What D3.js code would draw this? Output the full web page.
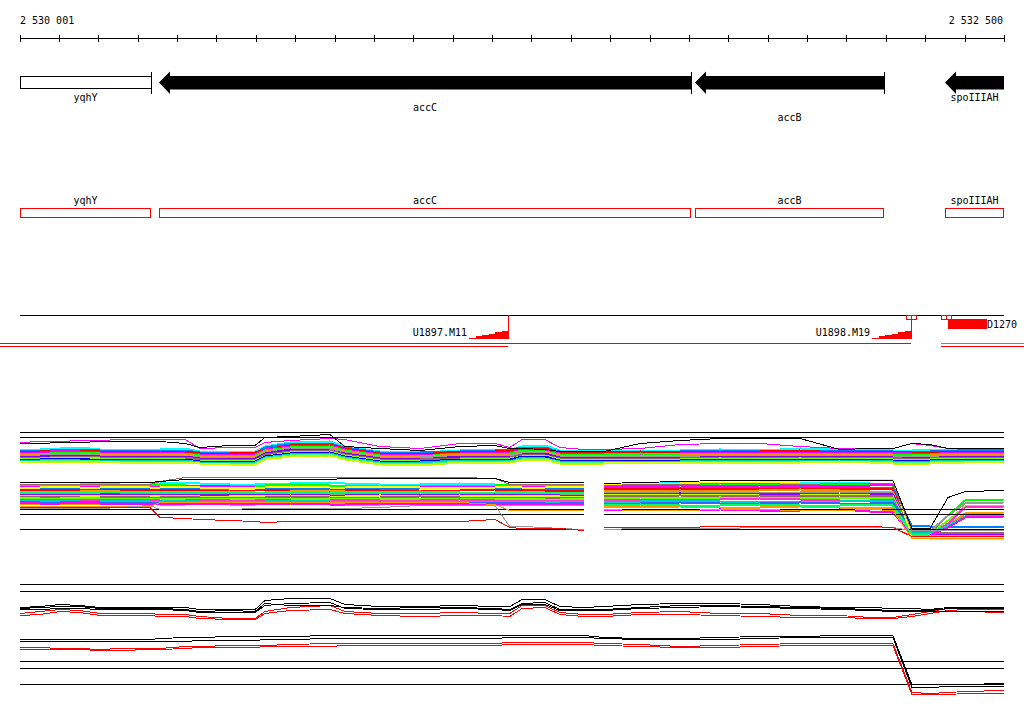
<!DOCTYPE html>
<html><head><meta charset="utf-8">
<script src="https://cdn.jsdelivr.net/npm/d3@7"></script>
<style>
body{margin:0;background:#fff}
svg{display:block}
text{font-family:"DejaVu Sans Mono","Liberation Mono",monospace;font-size:10px;fill:#000}
</style>
</head><body>
<svg id="chart" width="1024" height="714"></svg>
<script>
// ================= DATA =================
const viewStart = 2530001, viewEnd = 2532500;
const tickStep = 100;
const axisLabels = ["2 530 001", "2 532 500"];

// genes
const geneNames  = ["yqhY", "accC", "accB", "spoIIIAH"];
const geneStarts = [2529900, 2530355, 2531715, 2532350];
const geneEnds   = [2530334, 2531705, 2532195, 2532650];
const geneStrands = ["-", "-", "-", "-"];
const geneKinds  = ["open", "cds", "cds", "cds"];
const geneLabelRows = [0, 1, 2, 0];

// probes / features on the annotation line
const probeNames  = ["U1897.M11", "U1898.M19"];
const probeStarts = [2531141, 2532165];
const probeEnds   = [2531240, 2532264];
const markerStarts = [2532251, 2532264, 2532340, 2532353];
const markerEnds   = [2532264, 2532277, 2532353, 2532366];
const blockNames  = ["D1270"];
const blockStarts = [2532358];
const blockEnds   = [2532457];

// transcript spans under the annotation line
const spanStarts = [2529950, 2532340, 2529950, 2532340];
const spanEnds   = [2532264, 2532551, 2531240, 2532551];
const spanRows   = [0, 0, 1, 1];
const spanTypes  = ["antisense", "sense", "antisense", "antisense"];

// probe positions of the expression profiles
const probePos = [2530001,2530052,2530103,2530153,2530204,2530255,2530331,2530357,2530420,2530458,
  2530534,2530598,2530623,2530687,2530788,2530826,2530915,2531017,2531118,2531207,
  2531245,2531276,2531334,2531372,2531433,2531484,2531576,2531677,2531779,2531880,
  2531982,2532083,2532160,2532218,2532266,2532312,2532358,2532401,2532500];

// ---- track A (signal) ----
const trackARefs = [41, 36];
const trackAValues = [
  [23,23,24,25,23,22,23,23,24,21,20,21,26,30,31,26,21,20,22,23,23,26,27,22,22,22,21,22,23,22,24,23,23,22,22,23,23,22,23],
  [22,21,23,23,22,22,21,22,22,20,20,19,25,29,29,25,20,20,21,22,23,25,25,21,21,20,21,21,22,22,21,22,22,21,20,21,22,22,22],
  [20,21,22,22,21,20,21,21,21,19,19,20,23,27,28,24,19,18,21,21,22,24,24,20,20,20,21,20,21,21,22,20,21,21,20,20,21,21,20],
  [20,20,22,21,20,20,19,20,19,18,18,18,23,26,27,23,18,17,19,20,20,23,23,19,19,19,18,19,20,19,20,20,19,20,19,18,20,20,20],
  [19,18,20,20,19,19,19,18,19,17,16,17,22,25,26,22,17,16,19,18,19,22,21,18,18,18,19,18,19,19,18,19,19,18,18,18,19,18,19],
  [18,18,19,19,17,18,18,18,18,16,16,15,21,24,25,21,16,16,18,18,17,21,21,17,17,16,17,17,18,17,18,18,18,17,17,17,18,18,17],
  [17,17,19,18,17,16,17,17,16,15,15,15,20,24,24,20,15,15,17,16,17,20,19,16,16,16,16,16,17,17,16,17,16,17,16,16,17,16,17],
  [16,16,17,17,16,16,15,16,16,14,13,14,19,23,22,19,14,13,16,16,15,18,19,15,15,15,15,14,16,16,15,16,16,15,15,14,16,16,16],
  [15,14,16,16,15,15,15,14,15,13,13,12,18,21,22,18,13,13,14,15,15,18,17,14,14,13,14,14,15,15,14,15,15,15,13,14,15,15,14],
  [14,14,15,15,14,13,14,14,13,11,12,12,16,20,21,17,12,11,13,14,14,16,17,13,13,13,12,13,14,13,14,13,14,13,12,13,14,13,14],
  [13,13,14,14,12,13,13,13,13,11,10,11,16,19,20,16,11,11,13,12,13,16,16,12,12,12,12,12,13,13,12,13,13,12,12,12,13,13,13],
  [12,12,13,12,12,12,11,12,12,10,10,10,15,18,19,15,10,10,12,12,11,15,14,11,11,11,11,11,12,12,12,11,12,11,10,11,12,12,12],
  [11,11,12,12,11,11,11,10,11,9,9,9,14,17,18,14,9,8,11,11,11,13,14,10,10,10,10,10,11,11,10,11,11,10,10,10,11,11,11],
  [11,11,11,11,11,10,10,10,10,9,8,8,13,16,17,13,8,7,10,10,10,12,13,9,9,9,10,10,10,10,10,11,10,9,9,9,10,10,11]
];
const trackAOutliers = [
  [30,31,31,32,32,33,33,33,33,24,25,25,30,32,34,33,26,24,29,29,25,33,33,25,23,23,24,28,29,29,26,24,24,24,29,27,24,23,23],
  [29,29,30,30,31,31,31,31,29,25,27,27,35,36,38,26,24,22,26,27,24,24,23,21,21,21,29,32,34,34,34,23,24,24,29,28,24,24,24]
];

// ---- track B (signal, with a gap in probe coverage) ----
const trackBGap = [2531433, 2531484];
const trackBRefs = [37, 32, 17];
const trackBValues = [
  [61,61,60,61,62,61,61,62,63,62,61,61,62,62,63,62,61,61,62,61,60,61,61,60,61, 62,62,63,62,61,62,63,62,62,14,12,12,12,12],
  [60,59,60,60,59,60,60,61,60,59,60,59,60,61,60,59,60,60,59,60,61,60,59,60,60, 61,60,61,62,61,60,61,61,60,12,13,30,45,46],
  [58,59,59,58,59,58,59,58,59,60,59,58,58,59,58,58,59,59,58,59,59,58,59,59,58, 60,59,60,59,60,60,59,60,61,11,10,10,10,10],
  [57,57,58,57,56,57,58,57,57,56,57,58,57,56,57,57,56,57,58,57,57,56,57,57,56, 58,57,58,58,57,58,57,58,57,20,19,19,19,19],
  [56,55,56,56,55,56,55,56,56,55,54,55,56,55,55,56,55,54,55,56,55,56,55,54,55, 57,56,57,56,57,57,56,57,56,10,9,9,8,9],
  [54,54,53,54,55,54,53,54,54,53,54,53,53,54,55,54,53,54,53,52,53,54,53,53,52, 55,54,55,54,55,56,55,54,54,8,8,20,32,33],
  [52,53,52,52,53,52,52,53,52,52,51,52,53,52,52,51,52,53,52,52,51,52,52,51,52, 53,53,54,53,52,53,54,53,53,14,14,30,42,43],
  [51,51,50,51,52,51,51,50,51,50,51,50,51,51,50,50,51,51,50,51,50,51,51,50,50, 52,51,52,51,52,52,51,52,51,12,11,11,11,11],
  [50,49,50,50,49,50,49,50,50,49,49,50,49,50,49,49,50,49,50,49,50,49,50,49,49, 51,50,51,51,50,50,51,50,50,8,7,7,7,7],
  [49,48,49,48,48,49,48,48,49,48,48,47,48,49,48,48,48,49,48,48,47,48,48,47,48, 50,49,50,49,50,49,50,50,49,14,13,13,13,13],
  [48,47,47,48,47,46,47,47,46,47,46,47,47,46,47,46,47,46,47,47,46,47,46,46,47, 48,48,47,48,47,48,48,47,48,12,12,25,39,40],
  [46,46,45,46,46,45,46,45,45,46,45,45,46,45,45,46,45,45,46,45,44,45,45,44,45, 46,46,45,46,47,46,45,45,46,10,10,22,38,39],
  [45,44,45,44,44,45,44,44,45,44,43,44,44,45,44,44,43,44,44,43,44,44,43,44,43, 44,44,45,44,43,44,44,45,44,13,13,20,29,30],
  [44,43,43,44,43,43,42,43,43,42,43,43,42,43,43,42,43,42,43,43,42,43,42,42,43, 42,42,43,42,42,43,42,42,43,17,16,16,16,16],
  [42,42,41,42,41,42,42,41,41,42,41,41,42,41,42,41,41,42,41,40,41,41,41,40,41, 39,38,39,38,38,39,38,37,38,9,8,8,8,8],
  [43,42,42,43,42,42,41,42,42,41,42,42,41,42,41,41,42,41,42,42,41,42,41,42,41, 36,36,35,36,35,35,36,34,33,11,10,18,28,29],
  [58,58,59,58,58,59,58,58,59,58,58,57,58,59,58,58,59,58,58,58,59,58,58,59,58, 61,62,62,63,63,64,65,66,66,9,9,9,9,9],
  [53,53,54,53,53,54,53,52,53,53,54,53,53,52,53,54,53,53,52,53,54,53,53,52,53, 40,41,40,40,41,40,40,41,40,11,10,10,10,10]
];
const trackBOutliers = [
  [61,61,61,61,61,61,61,64,68,68,68,68,68,68,68,68,68,68,68,67,61,61,61,61,61, 60,61,61,62,62,61,62,62,62,15,15,15,15,15],
  [39,39,39,39,39,39,39,43,43,43,43,43,43,43,43,43,43,43,43,41,35,35,35,35,35, 36,35,35,36,36,35,35,36,35,7,7,7,7,7],
  [37,37,37,37,37,38,40,36,36,36,36,37,37,37,37,37,38,40,40,40,19,19,18,17,16, 16,17,17,17,18,18,18,18,18,15,15,15,15,15],
  [38,38,38,38,38,38,38,28,27,26,25,24,23,24,24,24,24,24,24,26,18,17,17,17,15, 18,18,18,19,19,19,19,19,18,9,9,9,9,9],
  [63,63,63,63,63,63,63,64,66,66,66,66,66,66,66,67,67,67,67,67,63,63,63,63,63, 62,63,64,65,65,65,65,65,65,17,17,48,54,55]
];

// ---- track C (signal) ----
const trackCRefs = [117, 110, 40, 33, 17];
const trackCBlack = [
  [93,94,96,95,93,93,93,93,93,91,91,91,100,102,102,96,94,94,95,94,94,101,101,94,93,94,96,97,97,96,94,93,93,92,92,91,93,93,93],
  [92,93,94,94,92,92,92,92,91,89,90,89,97,95,95,93,92,93,93,92,91,97,98,91,91,91,93,95,95,94,93,92,91,90,90,90,92,92,92],
  [91,91,92,92,91,91,91,91,90,88,88,88,95,97,98,92,91,91,92,91,90,96,96,90,90,90,92,93,94,93,92,91,90,89,89,89,89,89,89],
  [61,61,61,61,61,61,61,62,63,63,64,64,64,64,65,65,65,65,65,65,65,65,65,65,65,63,62,62,63,64,64,65,65,65,16,16,16,16,17],
  [59,59,59,59,59,59,59,59,59,60,60,60,61,61,62,62,62,62,62,62,63,63,63,63,63,62,61,61,61,62,63,63,63,63,13,13,14,14,14]
];
const trackCRed = [
  [87,89,91,90,87,87,87,86,86,84,82,82,89,93,95,89,87,87,88,87,87,95,95,88,86,86,88,89,87,87,85,85,83,83,86,89,92,91,91],
  [85,86,89,88,85,85,85,84,84,82,81,81,87,90,91,87,85,84,85,85,84,92,93,86,84,84,86,86,85,84,83,83,82,82,84,87,90,89,88],
  [53,53,52,52,51,52,52,52,54,54,55,55,55,56,57,57,57,57,57,57,58,58,58,58,58,57,56,54,55,56,57,57,57,57,8,7,8,9,10],
  [51,51,51,51,50,50,51,51,52,53,53,53,54,54,54,55,55,55,55,55,56,56,56,56,56,55,54,53,53,54,55,55,55,55,6,6,6,7,7]
];

// ================= STYLE / LAYOUT =================
const bandColorsA = ["#00ffff","#0080ff","#ff0000","#ff00ff","#00ff00","#ff9900","#999999","#8000ff","#996666","#80ff00","#0000ff","#00cccc","#33ff66","#ccff00"];
const outlierColorsA = ["#ff00ff","#000000"];
const bandColorsB = ["#00ffff","#00ff00","#ff00ff","#0080ff","#ff0000","#ff9900","#999999","#9900ff","#ccff00","#996666","#66ff00","#ff33cc","#00cccc","#3366ff","#ff9900","#ff00ff","#ffff00","#00ff66"];
const outlierColorsB = ["#996666","#ff9900","#999999","#ff0000","#000000"];
const spanColor = {antisense:"#ff0000", sense:"#00dd00"};

const svg = d3.select("#chart");
const x = d3.scaleLinear().domain([viewStart, viewEnd]).range([20, 1004]);
const xc = v => x(Math.max(viewStart, Math.min(viewEnd, v)));
const snap = v => Math.round(v) + 0.5;

// ---- ruler ----
const ruler = svg.append("g");
const tickVals = [viewStart].concat(d3.range(2530100, viewEnd, tickStep)).concat([viewEnd]);
ruler.append("line").attr("x1", x(viewStart)).attr("x2", x(viewEnd)).attr("y1", 38.5).attr("y2", 38.5)
  .attr("stroke", "#000").attr("shape-rendering", "crispEdges");
ruler.selectAll("line.tk").data(tickVals).enter().append("line").attr("class", "tk")
  .attr("x1", d => snap(x(d))).attr("x2", d => snap(x(d))).attr("y1", 35).attr("y2", 42)
  .attr("stroke", "#000").attr("shape-rendering", "crispEdges");
ruler.append("text").attr("x", x(viewStart)).attr("y", 24).text(axisLabels[0]);
ruler.append("text").attr("x", x(viewEnd) - 1).attr("y", 24).attr("text-anchor", "end").text(axisLabels[1]);

// ---- gene arrows ----
const genes = geneNames.map((n, i) => ({name: n, s: geneStarts[i], e: geneEnds[i], strand: geneStrands[i], kind: geneKinds[i], row: geneLabelRows[i]}));
const gArr = svg.append("g");
genes.forEach(g => {
  const xs = Math.round(xc(g.s)), xe = Math.round(xc(g.e));
  const hasHead = g.s >= viewStart;
  const hasBar = g.e <= viewEnd;
  if (g.kind === "open") {
    gArr.append("rect").attr("x", xs + 0.5).attr("y", 76.5).attr("width", xe - xs).attr("height", 12)
      .attr("fill", "#fff").attr("stroke", "#000").attr("shape-rendering", "crispEdges");
  } else {
    const hl = hasHead ? 11 : 0;
    const pts = hasHead
      ? [[xs, 82.5], [xs + hl, 71.5], [xs + hl, 76], [xe, 76], [xe, 89.5], [xs + hl, 89.5], [xs + hl, 94]]
      : [[xs, 76], [xe, 76], [xe, 89.5], [xs, 89.5]];
    gArr.append("path").attr("d", d3.line()(pts) + "Z").attr("fill", "#000");
  }
  if (hasBar) {
    gArr.append("line").attr("x1", xe + 0.5).attr("x2", xe + 0.5).attr("y1", 72).attr("y2", 94)
      .attr("stroke", "#000").attr("shape-rendering", "crispEdges");
  }
  gArr.append("text").attr("x", (xs + xe) / 2).attr("y", 101 + g.row * 10).attr("text-anchor", "middle").text(g.name);
});

// ---- gene boxes (second track) ----
const gBox = svg.append("g");
genes.forEach(g => {
  const xs = Math.round(xc(g.s)), xe = Math.round(xc(g.e));
  gBox.append("rect").attr("x", xs + 0.5).attr("y", 208.5).attr("width", xe - xs - 1).attr("height", 9)
    .attr("fill", "none").attr("stroke", "#ff0000").attr("shape-rendering", "crispEdges");
  gBox.append("text").attr("x", (xs + xe) / 2).attr("y", 204).attr("text-anchor", "middle").text(g.name);
});

// ---- annotation line with probes ----
const gAnn = svg.append("g");
gAnn.append("line").attr("x1", x(viewStart)).attr("x2", x(viewEnd)).attr("y1", 315.5).attr("y2", 315.5)
  .attr("stroke", "#000").attr("shape-rendering", "crispEdges");
probeNames.forEach((n, i) => {
  const xs = Math.round(x(probeStarts[i])), xe = Math.round(x(probeEnds[i]));
  const steps = 6, w = (xe - xs) / steps;
  const pts = [[xs, 339]];
  for (let k = 0; k < steps; k++) {
    const h = Math.round((k + 1) * 8 / steps);
    pts.push([xs + k * w, 339 - h], [xs + (k + 1) * w, 339 - h]);
  }
  pts.push([xe, 339]);
  gAnn.append("path").attr("d", d3.line()(pts) + "Z").attr("fill", "#ff0000").attr("shape-rendering", "crispEdges");
  gAnn.append("line").attr("x1", xe + 0.5).attr("x2", xe + 0.5).attr("y1", 315).attr("y2", 339)
    .attr("stroke", "#ff0000").attr("shape-rendering", "crispEdges");
  gAnn.append("text").attr("x", xs - 2).attr("y", 336).attr("text-anchor", "end").text(n);
});
markerStarts.forEach((s, i) => {
  const xs = Math.round(x(s)), xe = Math.round(x(markerEnds[i]));
  gAnn.append("rect").attr("x", xs + 0.5).attr("y", 315.5).attr("width", xe - xs).attr("height", 4)
    .attr("fill", "none").attr("stroke", "#ff0000").attr("shape-rendering", "crispEdges");
});
blockNames.forEach((n, i) => {
  const xs = Math.round(x(blockStarts[i])), xe = Math.round(x(blockEnds[i]));
  gAnn.append("rect").attr("x", xs).attr("y", 319).attr("width", xe - xs).attr("height", 10).attr("fill", "#ff0000");
  gAnn.append("text").attr("x", xe).attr("y", 328).text(n);
});
spanStarts.forEach((s, i) => {
  const y = 343.5 + spanRows[i] * 3;
  gAnn.append("line").attr("x1", x(s)).attr("x2", x(spanEnds[i])).attr("y1", y).attr("y2", y)
    .attr("stroke", spanColor[spanTypes[i]]).attr("shape-rendering", "crispEdges");
});

// ---- expression tracks ----
const yA = d3.scaleLinear().domain([0, 50]).range([472.5, 422.5]);
const yB = d3.scaleLinear().domain([0, 70]).range([545.5, 475.5]);
const yC = d3.scaleLinear().domain([0, 130]).range([700.5, 570.5]);

const allIdx = [[0, probePos.length - 1]];
const firstAfterGap = probePos.findIndex(p => p >= trackBGap[1]);
const segsB = [[0, firstAfterGap - 1], [firstAfterGap, probePos.length - 1]];

function drawSeries(g, values, yS, color, width, segs) {
  segs.forEach(([a, b]) => {
    const pts = d3.range(a, b + 1).map(i => [x(probePos[i]), yS(values[i])]);
    g.append("path").attr("d", d3.line()(pts)).attr("fill", "none")
      .attr("stroke", color).attr("stroke-width", width).attr("shape-rendering", "crispEdges");
  });
}
function drawRefs(g, refs, yS, spans) {
  refs.forEach(r => spans.forEach(([s, e]) => {
    g.append("line").attr("x1", x(s)).attr("x2", x(e)).attr("y1", Math.round(yS(r)) + 0.5).attr("y2", Math.round(yS(r)) + 0.5)
      .attr("stroke", "#000").attr("shape-rendering", "crispEdges");
  }));
}

const gA = svg.append("g");
drawRefs(gA, trackARefs, yA, [[viewStart, viewEnd]]);
trackAValues.forEach((v, i) => drawSeries(gA, v, yA, bandColorsA[i], 2, allIdx));
trackAOutliers.forEach((v, i) => drawSeries(gA, v, yA, outlierColorsA[i], 1, allIdx));

const gB = svg.append("g");
trackBValues.forEach((v, i) => drawSeries(gB, v, yB, bandColorsB[i], 2, segsB));
drawRefs(gB, trackBRefs, yB, [[viewStart, probePos[firstAfterGap - 1]], [probePos[firstAfterGap], viewEnd]]);
trackBOutliers.forEach((v, i) => drawSeries(gB, v, yB, outlierColorsB[i], 1, segsB));

const gC = svg.append("g");
drawRefs(gC, trackCRefs, yC, [[viewStart, viewEnd]]);
trackCRed.forEach(v => drawSeries(gC, v, yC, "#ff0000", 1, allIdx));
trackCBlack.forEach(v => drawSeries(gC, v, yC, "#000000", 1, allIdx));
</script>
</body></html>
